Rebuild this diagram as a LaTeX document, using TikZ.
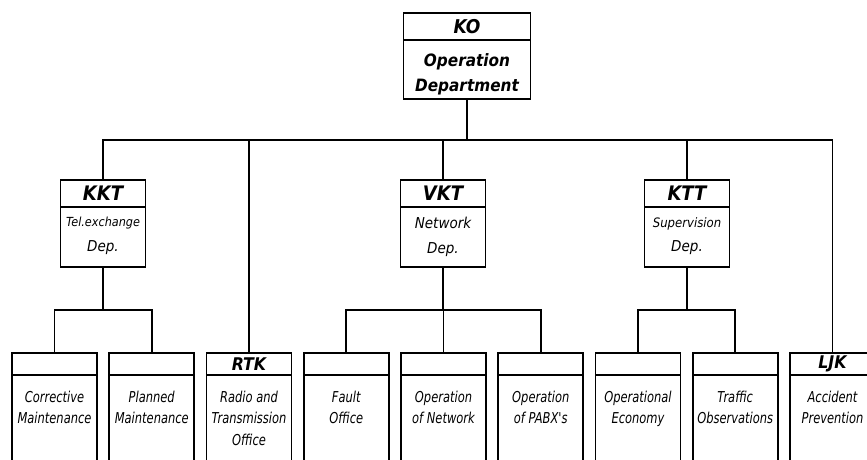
\documentclass[tikz,border=0pt]{standalone}
\usepackage{fontspec}
\setmainfont{DejaVu Sans Condensed}[UprightFont=* Oblique, BoldFont=* Bold Oblique]
\newfontfamily\leaffont{DejaVu Sans Condensed Oblique}[FakeStretch=0.85]
\usetikzlibrary{positioning}

\begin{document}
\begin{tikzpicture}[x=1pt, y=-1pt,
    link/.style={line width=1.8pt},
    head/.style={draw, line width=1.8pt, outer sep=0pt, inner sep=0pt, anchor=north,
        minimum width=85pt, minimum height=27pt, font=\bfseries\fontsize{20}{20}\selectfont},
    body/.style={draw, line width=1.8pt, outer sep=0pt, inner sep=0pt,
        minimum width=85pt, minimum height=60pt},
    leaf/.style={head, minimum height=22pt, font=\bfseries\fontsize{17.5}{17.5}\selectfont},
    leafbody/.style={body, minimum height=100pt},
    txt/.style={inner sep=0pt, align=center, font=\leaffont\fontsize{15}{21.5}\selectfont}]
    \useasboundingbox (0,0) rectangle (867,459);
    \clip (0,0) rectangle (867,459);

    % Operation department
    \node[head, minimum width=127pt, font=\bfseries\fontsize{19}{19}\selectfont] (ko) at (467,13) {KO};
    \node[body, minimum width=127pt, minimum height=59pt, below=0pt of ko] (kob) {};
    \node[txt, font=\bfseries\fontsize{17}{25}\selectfont, below=13.5pt of ko.south] (kot) {Operation\\Department};

    % Departments
    \node[head] (kkt) at (103,180) {KKT};
    \node[body, below=0pt of kkt] (kktb) {};
    \node[txt, font=\fontsize{15}{24.5}\selectfont, below=10pt of kkt.south] (kktt) {{\fontsize{12.5}{14}\selectfont Tel.exchange}\\Dep.};

    \node[head] (vkt) at (443,180) {VKT};
    \node[body, below=0pt of vkt] (vktb) {};
    \node[txt, font=\fontsize{15}{24.5}\selectfont, below=10pt of vkt.south] (vktt) {Network\\Dep.};

    \node[head] (ktt) at (687,180) {KTT};
    \node[body, below=0pt of ktt] (kttb) {};
    \node[txt, font=\fontsize{15}{24.5}\selectfont, below=10pt of ktt.south] (kttt) {{\fontsize{13}{14}\selectfont Supervision}\\Dep.};

    % Offices
    \node[leaf] (cm) at (54.5,353) {};
    \node[leaf, right=12.25pt of cm] (pm) {};
    \node[leaf, right=12.25pt of pm] (rtk) {RTK};
    \node[leaf, right=12.25pt of rtk] (fo) {};
    \node[leaf, right=12.25pt of fo] (on) {};
    \node[leaf, right=12.25pt of on] (op) {};
    \node[leaf, right=12.25pt of op] (oe) {};
    \node[leaf, right=12.25pt of oe] (to) {};
    \node[leaf, right=12.25pt of to] (ljk) {LJK};

    \foreach \n in {cm,pm,rtk,fo,on,op,oe,to,ljk}
        \node[leafbody, anchor=north] (\n b) at (\n.south) {};

    \node[txt, below=15.5pt of cm.south] (cmt) {Corrective\\Maintenance};
    \node[txt, below=15.5pt of pm.south] (pmt) {Planned\\Maintenance};
    \node[txt, below=15.5pt of rtk.south] (rtkt) {Radio and\\Transmission\\Office};
    \node[txt, below=15.5pt of fo.south] (fot) {Fault\\Office};
    \node[txt, below=15.5pt of on.south] (ont) {Operation\\of Network};
    \node[txt, below=15.5pt of op.south] (opt) {Operation\\of PABX's};
    \node[txt, below=15.5pt of oe.south] (oet) {Operational\\Economy};
    \node[txt, below=15.5pt of to.south] (tot) {Traffic\\Observations};
    \node[txt, below=15.5pt of ljk.south] (ljkt) {Accident\\Prevention};

    % Lines
    \coordinate (bus) at (0,140);
    \coordinate (sub) at (0,310);
    \draw[link] (kob.south) -- (kob.south |- bus);
    \draw[link] (kkt.north) -- (kkt.north |- bus) -- (ljk.north |- bus) -- (ljk.north);
    \draw[link] (rtk.north) -- (rtk.north |- bus);
    \draw[link] (vkt.north) -- (vkt.north |- bus);
    \draw[link] (ktt.north) -- (ktt.north |- bus);

    \draw[link] (kktb.south) -- (kktb.south |- sub);
    \draw[link] (cm.north) -- (cm.north |- sub) -- (pm.north |- sub) -- (pm.north);
    \draw[link] (vktb.south) -- (vktb.south |- sub);
    \draw[link] (fo.north) -- (fo.north |- sub) -- (op.north |- sub) -- (op.north);
    \draw[link] (on.north) -- (on.north |- sub);
    \draw[link] (kttb.south) -- (kttb.south |- sub);
    \draw[link] (oe.north) -- (oe.north |- sub) -- (to.north |- sub) -- (to.north);
\end{tikzpicture}
\end{document}
